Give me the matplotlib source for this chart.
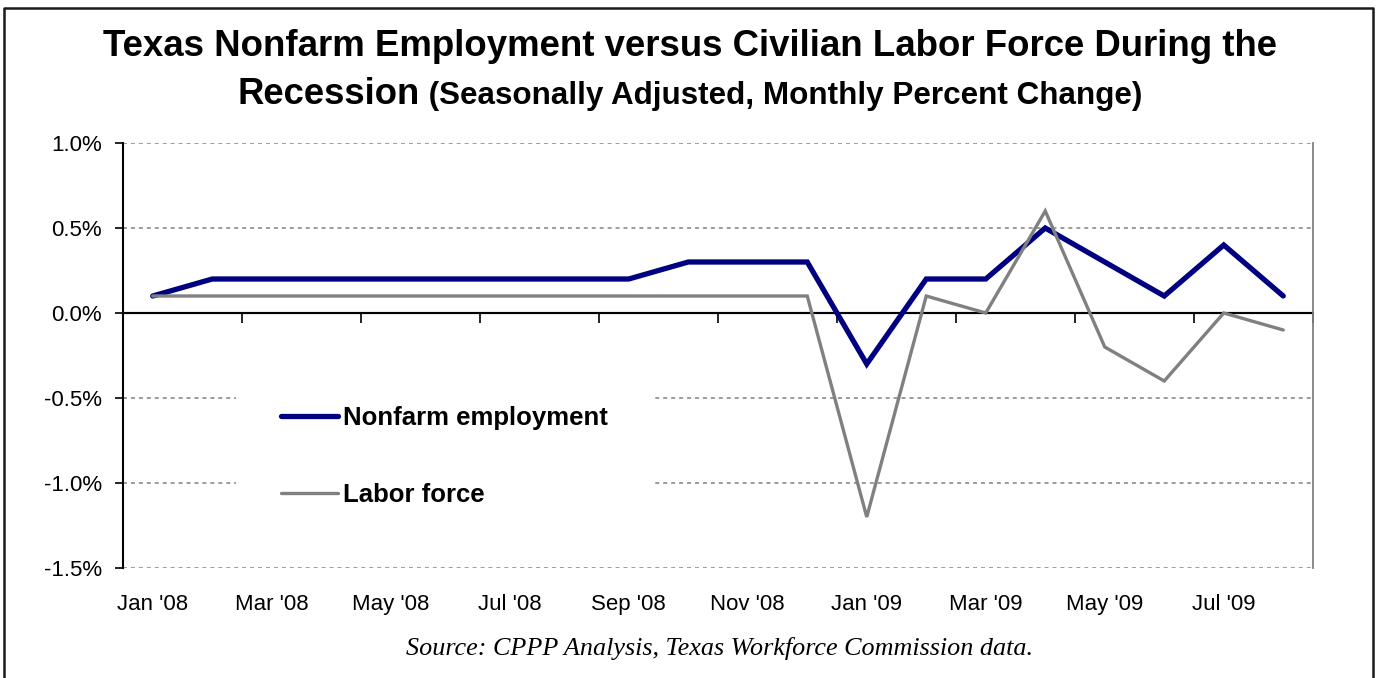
import matplotlib
matplotlib.use("Agg")
import matplotlib.pyplot as plt
from matplotlib.lines import Line2D
from matplotlib.ticker import FuncFormatter, FixedLocator

plt.rcParams['font.family'] = ['Liberation Sans', 'DejaVu Sans']

# monthly percent change, Jan 2008 - Aug 2009
months = ["Jan '08", "Feb '08", "Mar '08", "Apr '08", "May '08", "Jun '08",
          "Jul '08", "Aug '08", "Sep '08", "Oct '08", "Nov '08", "Dec '08",
          "Jan '09", "Feb '09", "Mar '09", "Apr '09", "May '09", "Jun '09",
          "Jul '09", "Aug '09"]
nonfarm = [0.1, 0.2, 0.2, 0.2, 0.2, 0.2, 0.2, 0.2, 0.2, 0.3, 0.3, 0.3,
           -0.3, 0.2, 0.2, 0.5, 0.3, 0.1, 0.4, 0.1]
labor_force = [0.1, 0.1, 0.1, 0.1, 0.1, 0.1, 0.1, 0.1, 0.1, 0.1, 0.1, 0.1,
               -1.2, 0.1, 0.0, 0.6, -0.2, -0.4, 0.0, -0.1]
y_ticks = [-1.5, -1.0, -0.5, 0.0, 0.5, 1.0]

NAVY = '#000080'
GREY = '#808080'

fig = plt.figure(figsize=(13.8, 6.78), dpi=100)
ax = fig.add_axes([123 / 1380, 1 - 568 / 678, (1313 - 123) / 1380, (568 - 143) / 678])

x = list(range(len(months)))
ax.plot(x, nonfarm, color=NAVY, lw=3.8, solid_capstyle='round',
        solid_joinstyle='miter', label='Nonfarm employment', zorder=3)
ax.plot(x, labor_force, color=GREY, lw=2.4, solid_capstyle='round',
        solid_joinstyle='miter', label='Labor force', zorder=4)

ax.set_xlim(-0.5, len(months) - 0.5)
ax.set_ylim(y_ticks[0], y_ticks[-1])

# y axis
ax.yaxis.set_major_locator(FixedLocator(y_ticks))
ax.yaxis.set_major_formatter(FuncFormatter(lambda v, p: f'{v:.1f}%'))
ax.tick_params(axis='y', direction='out', length=6, width=1.2, pad=9,
               labelsize=16, colors='black')
ax.grid(axis='y', color=GREY, lw=1.1, ls=(0, (2.6, 2.6)), zorder=1)
ax.set_axisbelow(True)

# category labels every other month along the bottom
ax.set_xticks(x[::2])
ax.set_xticklabels(months[::2])
ax.tick_params(axis='x', length=0, pad=19, labelsize=16)

# category axis crossing at zero, ticks between categories
zero_frac = (0 - y_ticks[0]) / (y_ticks[-1] - y_ticks[0])
sec = ax.secondary_xaxis(zero_frac)
sec.set_xticks([i + 0.5 for i in x[1::2]])
sec.tick_params(axis='x', which='both', direction='in', length=7, width=1.2,
                top=True, bottom=False, labeltop=False, labelbottom=False)
sec.spines['top'].set_visible(True)
sec.spines['top'].set_color('black')
sec.spines['top'].set_linewidth(1.5)
ax.axhline(0, color='black', lw=1.5, zorder=2)

for side in ['top', 'bottom']:
    ax.spines[side].set_visible(False)
ax.spines['right'].set_color(GREY)
ax.spines['right'].set_linewidth(1.3)
ax.spines['left'].set_color('black')
ax.spines['left'].set_linewidth(1.5)

leg = ax.legend(loc='upper left', bbox_to_anchor=(0.095, 0.487), frameon=True,
                fancybox=False, edgecolor='none', facecolor='white', framealpha=1,
                handlelength=2.2, handletextpad=0.23, borderpad=1.75,
                labelspacing=2.05, borderaxespad=0,
                prop={'weight': 'bold', 'size': 18.5})
leg.set_zorder(2)

# title: two lines, second with a smaller parenthetical
fig.text(0.5, 1 - 47 / 678, 'Texas Nonfarm Employment versus Civilian Labor Force During the',
         ha='center', va='center', fontsize=26.4, fontweight='bold')
fig.canvas.draw()
r = fig.canvas.get_renderer()
t1 = fig.text(0, 1 - 104 / 678, 'Recession', ha='left', va='baseline',
              fontsize=26.3, fontweight='bold')
t2 = fig.text(0, 1 - 104 / 678, ' (Seasonally Adjusted, Monthly Percent Change)',
              ha='left', va='baseline', fontsize=22.6, fontweight='bold')
w1 = t1.get_window_extent(r).width
w2 = t2.get_window_extent(r).width
x0 = 690 - (w1 + w2) / 2
t1.set_x(x0 / 1380)
t2.set_x((x0 + w1) / 1380)

fig.text(719 / 1380, 1 - 648 / 678,
         'Source: CPPP Analysis, Texas Workforce Commission data.',
         ha='center', va='center', fontsize=18.8, style='italic',
         family=['Liberation Serif', 'DejaVu Serif'])

# outer frame
frame = Line2D([4 / 1380, 4 / 1380, 1373 / 1380, 1373 / 1380],
               [-0.05, 1 - 8 / 678, 1 - 8 / 678, -0.05],
               transform=fig.transFigure, color='#1a1a1a', lw=1.8)
fig.add_artist(frame)

fig.savefig('out.png', dpi=100, facecolor='white')
